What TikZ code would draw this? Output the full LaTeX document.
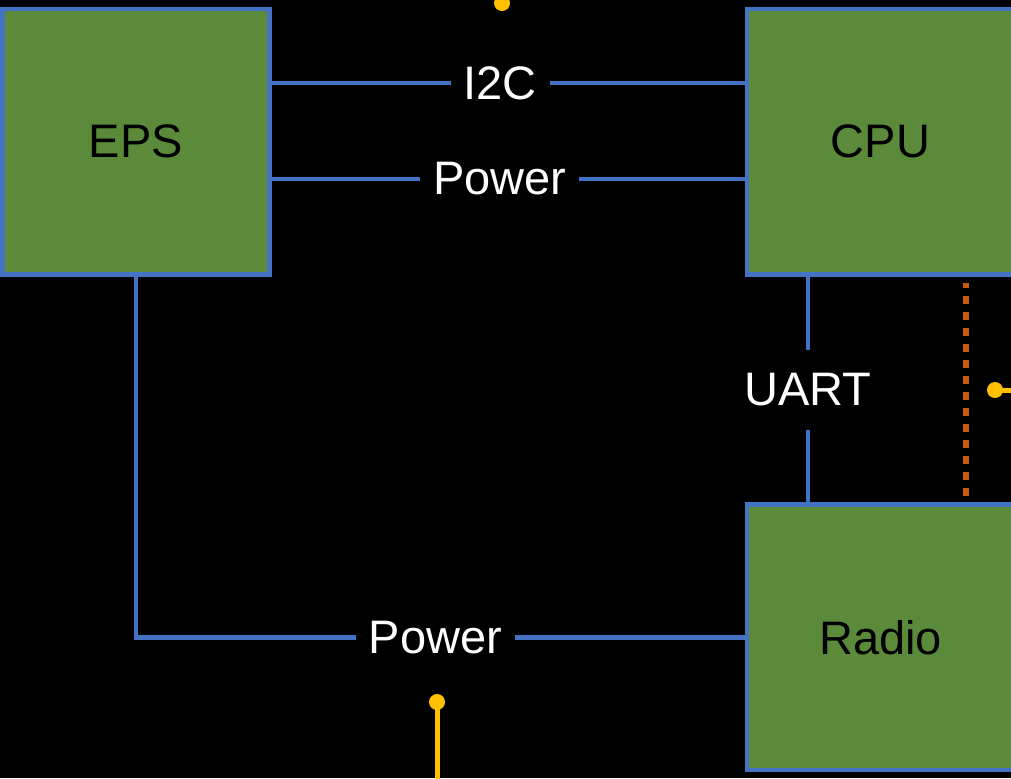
\documentclass[tikz,border=0pt]{standalone}
\usepackage{fontspec}
\setmainfont{Liberation Sans}
\usetikzlibrary{positioning}
\definecolor{boxgreen}{RGB}{90,138,58}
\definecolor{linkblue}{RGB}{68,114,196}
\definecolor{dotorange}{RGB}{197,90,17}
\definecolor{pinyellow}{RGB}{255,192,0}
\begin{document}
\begin{tikzpicture}[x=.5pt,y=-.5pt,font=\fontsize{23.5}{27}\selectfont,
  blk/.style={draw=linkblue,fill=boxgreen,line width=2.3pt,minimum width=133.5pt,minimum height=132.75pt,inner sep=0pt},
  link/.style={draw=linkblue,line width=2.3pt},
  lbl/.style={fill=black,text=white,inner xsep=6.5pt,inner ysep=0pt,minimum height=40pt},
  pin/.style={draw=pinyellow,line width=2.5pt}]
\path[use as bounding box,fill=black] (0,0) rectangle (1011,778);
\clip (0,0) rectangle (1011,778);
% blocks
\node[blk] (eps) at (136,141.75) {EPS};
\node[blk] (cpu) at (880.5,141.75) {CPU};
\node[blk] (radio) at (880.5,637.25) {Radio};
% rows / columns of the buses
\coordinate (i2crow) at (0,83);
\coordinate (pwrrow) at (0,179);
\coordinate (uartcol) at (808,0);
\draw[link] (eps.east |- i2crow) -- node[lbl,pos=.483]{I2C} (cpu.west |- i2crow);
\draw[link] (eps.east |- pwrrow) -- node[lbl,pos=.482]{Power} (cpu.west |- pwrrow);
\draw[link] (cpu.south -| uartcol) -- node[lbl]{UART} (radio.north -| uartcol);
\draw[link] (eps.south) |- node[lbl,pos=.746]{Power} (radio.west);
% dotted link cpu - radio
\draw[dotorange,line width=2.8pt,dash pattern=on 4pt off 4pt,dash phase=1.5pt] (966,283) -- (966,497);
% yellow pins
\coordinate (pintop) at (502,3);
\coordinate (pinright) at (995,390);
\coordinate (pinbot) at (437,702);
\fill[pinyellow] (pintop) circle[radius=8];
\draw[pin] (pinright) -- (1020,390);
\fill[pinyellow] (pinright) circle[radius=8];
\draw[pin] (pinbot) -- (437,790);
\fill[pinyellow] (pinbot) circle[radius=8];
\end{tikzpicture}
\end{document}
